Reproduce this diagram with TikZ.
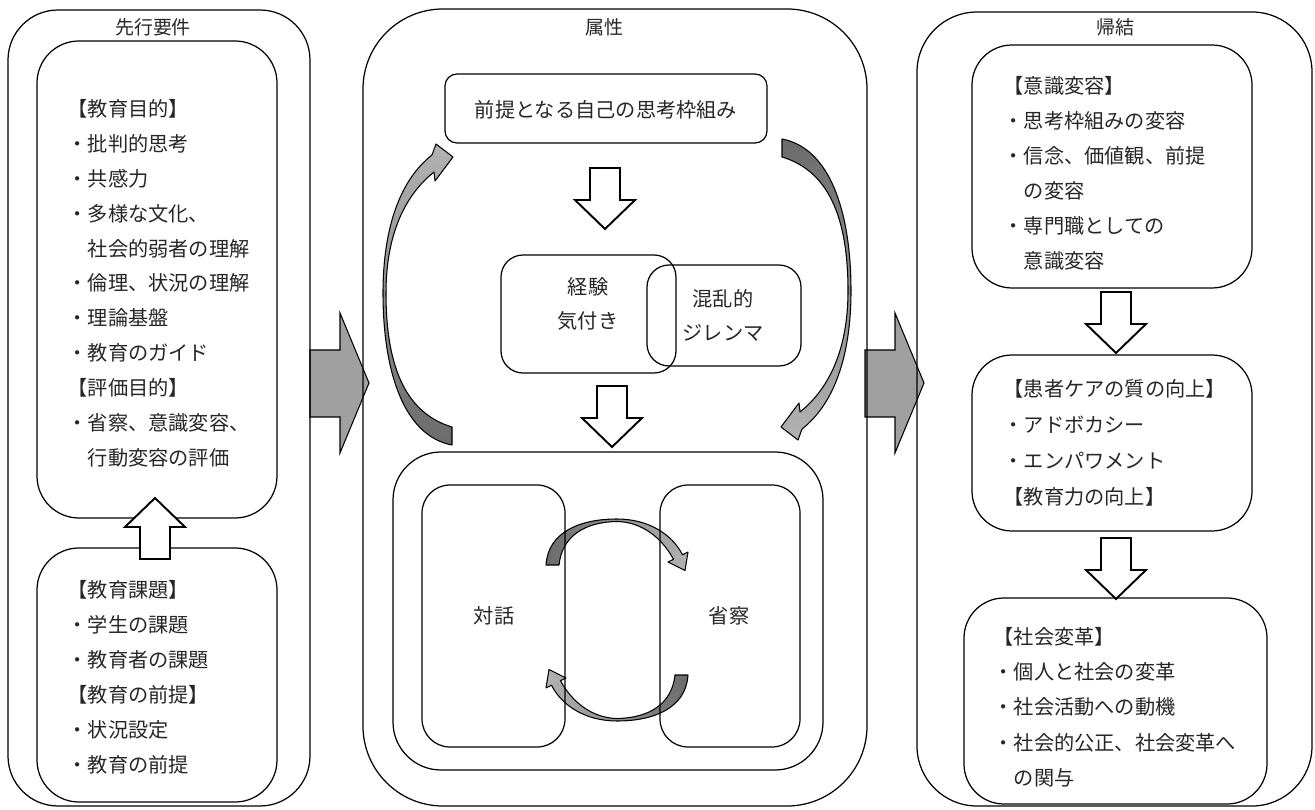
\documentclass[tikz,border=0pt]{standalone}
\usepackage{fontspec}
\setmainfont{Noto Sans CJK JP}
\definecolor{arrowfill}{RGB}{160,160,160}

\tikzset{
  box/.style={draw, rounded corners=#1},
  txt/.style={anchor=north west, inner sep=0pt, align=left, text=black!85,
    font=\fontsize{11.5}{#1}\selectfont},
  ctr/.style={inner sep=0pt, align=center, text=black!85,
    font=\fontsize{11.5}{#1}\selectfont},
  title/.style={inner sep=0pt, text=black!85, font=\fontsize{10.8}{13}\selectfont},
  hollow/.style={draw, fill=white, line width=1.1pt, line join=miter},
  flat/.style={draw, fill=arrowfill, line width=0.6pt},
  curvy/.style={draw, line width=0.6pt, line join=round},
  hollowarrow/.pic={\draw[hollow] (-15,0) -- (15,0) -- (15,32) -- (30,32) -- (0,61)
    -- (-30,32) -- (-15,32) -- cycle;}
}

\begin{document}
\begin{tikzpicture}[x=0.02cm, y=-0.02cm, line width=0.7pt]
\useasboundingbox (0,0) rectangle (1315,810);

% gray arrows between the three columns
\foreach \dx in {0,555}
  \draw[flat] (310+\dx,350) -- (340+\dx,350) -- (340+\dx,313) -- (369+\dx,383)
    -- (340+\dx,453) -- (340+\dx,417) -- (310+\dx,417) -- cycle;

% dialogue / reflection cycle
\foreach \a/\lc/\rc in {0/black!58/black!30, 180/black!30/black!58}
  \draw[curvy, rotate around={\a:(617,620)}, left color=\lc, right color=\rc]
    (546,565) .. controls (548,532) and (580,519) .. (617,519)
    .. controls (648,519) and (672,534) .. (682.5,554.8) -- (688,552) -- (685,570.5)
    -- (668,562) -- (673.5,559.3) .. controls (662,538) and (642,522) .. (617,521.5)
    .. controls (585,522) and (562,536) .. (559,565) -- cycle;

% big loop round the attribute column
\foreach \a/\tc/\bc in {0/black!30/black!58, 180/black!58/black!30}
  \draw[curvy, rotate around={\a:(617,292)}, top color=\tc, bottom color=\bc]
    (452,427) .. controls (402,412) and (386,360) .. (386,293)
    .. controls (386,236) and (404,196) .. (434,172) -- (435,181) -- (453,157)
    -- (436,144) -- (432,155) .. controls (400,180) and (383,228) .. (383,293)
    .. controls (383,372) and (404,436) .. (452,445) -- cycle;

% antecedents
\draw[box=1cm] (8,10) rectangle (310,806);
\draw[box=0.84cm] (37,41) rectangle (277,518);
\draw[box=0.84cm] (37,548) rectangle (277,802);

% attributes
\draw[box=1.6cm] (363,9) rectangle (867,806);
\draw[box=0.24cm] (445,74) rectangle (767,143);
\draw[box=0.44cm] (501,255) rectangle (676,373);
\draw[box=0.44cm] (647,265) rectangle (801,366);
\draw[box=0.96cm] (393,452) rectangle (823,770);
\draw[box=0.56cm] (422,485) rectangle (565,747);
\draw[box=0.56cm] (660,485) rectangle (800,747);

% consequences
\draw[box=1.2cm] (917,12) rectangle (1312,806);
\draw[box=0.8cm] (972,45) rectangle (1252,288);
\draw[box=0.8cm] (972,355) rectangle (1252,531);
\draw[box=0.8cm] (964,598) rectangle (1267,804);

% white arrows
\pic[rotate=180] at (155,559) {hollowarrow};
\pic at (605,168) {hollowarrow};
\pic at (612,386) {hollowarrow};
\pic at (1116,292) {hollowarrow};
\pic at (1116,538) {hollowarrow};

% texts
\node[title] (anteTitle) at (153,27) {先行要件};
\node[title] (attrTitle) at (604,27) {属性};
\node[title] (consTitle) at (1115,27) {帰結};

\node[txt=19.84pt] (goals) at (67,99) {【教育目的】\\・批判的思考\\・共感力\\・多様な文化、\\　社会的弱者の理解\\・倫理、状況の理解\\・理論基盤\\・教育のガイド\\【評価目的】\\・省察、意識変容、\\　行動変容の評価};
\node[txt=19.84pt] (issues) at (67,580) {【教育課題】\\・学生の課題\\・教育者の課題\\【教育の前提】\\・状況設定\\・教育の前提};

\node[ctr=19.5pt] (frame) at (606,110) {前提となる自己の思考枠組み};
\node[ctr=19.3pt] (exp) at (588,304) {経験\\気付き};
\node[ctr=19.8pt] (dilemma) at (723,315.5) {混乱的\\ジレンマ};
\node[ctr=19.5pt] (dialog) at (494,616) {対話};
\node[ctr=19.5pt] (reflect) at (729,616) {省察};

\node[txt=20pt] (mind) at (1003,75.5) {【意識変容】\\・思考枠組みの変容\\・信念、価値観、前提\\　の変容\\・専門職としての\\　意識変容};
\node[txt=20.6pt] (care) at (1003,378.5) {【患者ケアの質の向上】\\・アドボカシー\\・エンパワメント\\【教育力の向上】};
\node[txt=20pt] (society) at (993,627) {【社会変革】\\・個人と社会の変革\\・社会活動への動機\\・社会的公正、社会変革へ\\　の関与};
\end{tikzpicture}
\end{document}
